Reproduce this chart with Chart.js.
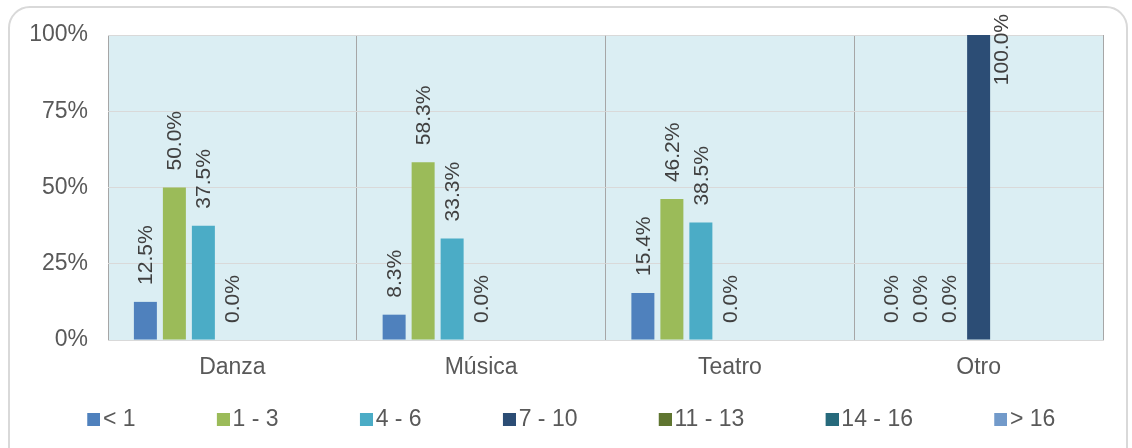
<!DOCTYPE html>
<html>
<head>
<meta charset="utf-8">
<script src="https://cdn.jsdelivr.net/npm/chart.js@4.4.1/dist/chart.umd.min.js"></script>
<style>
  html, body { margin: 0; padding: 0; background: #fff; }
  #wrap { position: relative; width: 1132px; height: 448px; overflow: hidden; }
  #frame { position: absolute; left: 8px; top: 6px; width: 1120px; height: 470px;
           border: 2px solid #d9d9d9; border-radius: 22px; box-sizing: border-box; }
  #chart { position: absolute; left: 0; top: 0; }
</style>
</head>
<body>
<div id="wrap">
  <div id="frame"></div>
  <canvas id="chart" width="1132" height="448"></canvas>
</div>
<script>
const categories = ['Danza', 'Música', 'Teatro', 'Otro'];
const seriesNames = ['< 1', '1 - 3', '4 - 6', '7 - 10', '11 - 13', '14 - 16', '> 16'];
const lessThan1 = [12.5, 8.3, 15.4, 0];
const from1to3 = [50.0, 58.3, 46.2, 0];
const from4to6 = [37.5, 33.3, 38.5, 0];
const from7to10 = [0, 0, 0, 100.0];
const from11to13 = [null, null, null, null];
const from14to16 = [null, null, null, null];
const over16 = [null, null, null, null];
const yTicks = [0, 25, 50, 75, 100];

const seriesData = [lessThan1, from1to3, from4to6, from7to10, from11to13, from14to16, over16];
const colors = ['#4f81bd', '#9bbb59', '#4bacc6', '#2c4d75', '#5f7530', '#276a7c', '#729aca'];

const FONT = "'Liberation Sans', Arial, sans-serif";
const LEG_PAD = 16;
const LEG_W = 69.5;

// legend marker: square sitting at the right end of a mostly empty image
function makeMarker(color) {
  const c = document.createElement('canvas');
  c.width = Math.round(LEG_W + 17);
  c.height = 13;
  const g = c.getContext('2d');
  g.fillStyle = color;
  g.fillRect(c.width - 13, 0, 13, 13);
  return c;
}

const plotBg = {
  id: 'plotBg',
  beforeDraw(chart) {
    const a = chart.chartArea, ctx = chart.ctx;
    ctx.save();
    ctx.fillStyle = '#dbeef3';
    ctx.fillRect(a.left, a.top, a.right - a.left, a.bottom - a.top);
    ctx.restore();
  }
};

const barLabels = {
  id: 'barLabels',
  afterDatasetsDraw(chart) {
    const ctx = chart.ctx;
    ctx.save();
    ctx.font = '21px ' + FONT;
    ctx.fillStyle = '#404040';
    ctx.textAlign = 'left';
    ctx.textBaseline = 'middle';
    chart.data.datasets.forEach((ds, i) => {
      const meta = chart.getDatasetMeta(i);
      meta.data.forEach((bar, j) => {
        const v = ds.data[j];
        if (v === null || v === undefined) return;
        const text = v.toFixed(1) + '%';
        const w = ctx.measureText(text).width;
        let x = bar.x + 1;
        let y = bar.y - 17;
        if (y - w < 14) {
          y = 14 + w;
          x = bar.x + bar.width + 1;
        }
        ctx.save();
        ctx.translate(x, y);
        ctx.rotate(-Math.PI / 2);
        ctx.fillText(text, 0, 0);
        ctx.restore();
      });
    });
    ctx.restore();
  }
};

new Chart(document.getElementById('chart'), {
  type: 'bar',
  data: {
    labels: categories,
    datasets: seriesNames.map((name, i) => ({
      label: name,
      data: seriesData[i],
      backgroundColor: colors[i],
      borderWidth: 0,
      categoryPercentage: 0.816,
      barPercentage: 0.793
    }))
  },
  options: {
    responsive: false,
    animation: false,
    layout: { padding: { left: 6, right: 29, top: 35, bottom: 7 } },
    plugins: {
      tooltip: { enabled: false },
      legend: {
        position: 'bottom',
        align: 'start',
        labels: {
          usePointStyle: true,
          pointStyleWidth: LEG_W,
          padding: LEG_PAD,
          color: '#595959',
          font: { family: FONT, size: 23 },
          generateLabels: chart => chart.data.datasets.map((ds, i) => ({
            text: ds.label,
            fillStyle: ds.backgroundColor,
            strokeStyle: ds.backgroundColor,
            lineWidth: 0,
            pointStyle: makeMarker(ds.backgroundColor),
            fontColor: '#595959',
            hidden: !chart.isDatasetVisible(i),
            datasetIndex: i
          }))
        }
      }
    },
    scales: {
      x: {
        grid: { color: '#a6a6a6', drawTicks: false, offset: true },
        border: { color: '#d9d9d9' },
        ticks: { color: '#595959', font: { family: FONT, size: 23 }, padding: 14 },
        afterFit(scale) { scale.height = 52; }
      },
      y: {
        min: 0,
        max: 100,
        afterBuildTicks(scale) { scale.ticks = yTicks.map(v => ({ value: v })); },
        grid: { color: '#d9d9d9', drawTicks: false },
        border: { display: false },
        ticks: {
          color: '#595959',
          font: { family: FONT, size: 23 },
          padding: 20,
          callback: v => v + '%'
        },
        afterFit(scale) { scale.width = 102; }
      }
    }
  },
  plugins: [plotBg, barLabels]
});
</script>
</body>
</html>
